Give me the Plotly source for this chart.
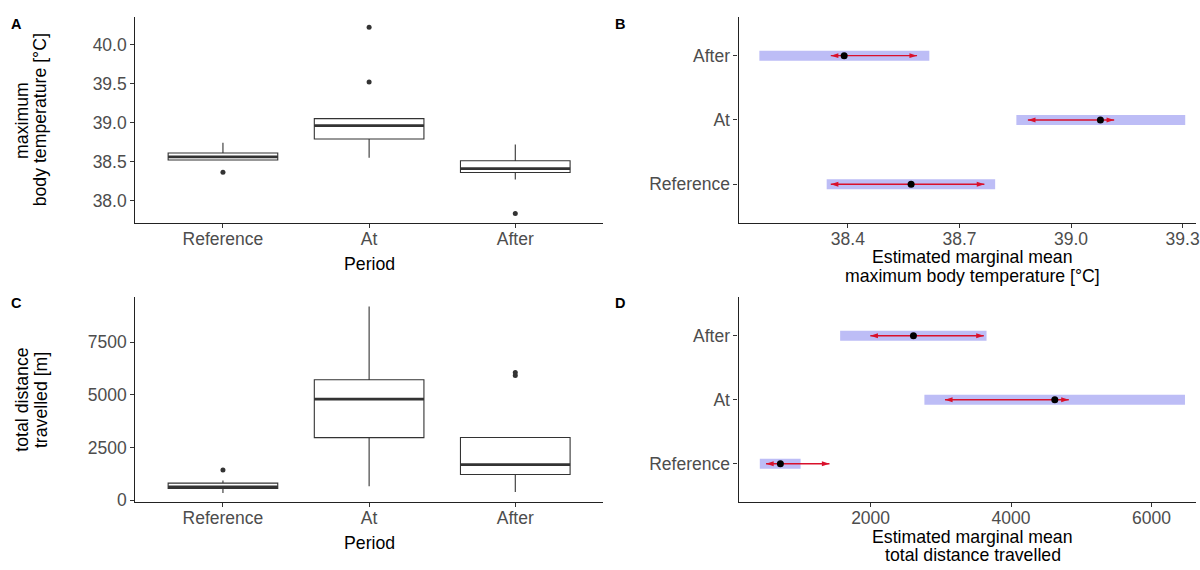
import plotly.graph_objects as go

# ---- data -------------------------------------------------------------
periods = ["Reference", "At", "After"]

# maximum body temperature [°C] – box summaries per period
temp_q1 = [38.52, 38.79, 38.36]
temp_median = [38.56, 38.96, 38.41]
temp_q3 = [38.61, 39.05, 38.51]
temp_lower = [38.52, 38.55, 38.27]
temp_upper = [38.74, 39.05, 38.72]
temp_outlier_period = [0, 1, 1, 2]
temp_outlier_value = [38.365, 39.52, 40.22, 37.836]

# total distance travelled [m] – box summaries per period
dist_q1 = [560, 2970, 1220]
dist_median = [640, 4800, 1690]
dist_q3 = [810, 5720, 2980]
dist_lower = [345, 660, 390]
dist_upper = [940, 9200, 2980]
dist_outlier_period = [0, 2, 2]
dist_outlier_value = [1435, 5920, 6060]

# estimated marginal means, confidence limits and comparison arrows
temp_emm = [38.570, 39.079, 38.390]
temp_lcl = [38.343, 38.853, 38.162]
temp_ucl = [38.796, 39.307, 38.619]
temp_arrow_lo = [38.354, 38.884, 38.354]
temp_arrow_hi = [38.767, 39.116, 38.586]

dist_emm = [715, 4623, 2610]
dist_lcl = [422, 2766, 1566]
dist_ucl = [1003, 6477, 3651]
dist_arrow_lo = [511, 3059, 1996]
dist_arrow_hi = [1414, 4822, 3612]

temp_ticks = [38.0, 38.5, 39.0, 39.5, 40.0]
temp_emm_ticks = [38.4, 38.7, 39.0, 39.3]
dist_ticks = [0, 2500, 5000, 7500]
dist_emm_ticks = [2000, 4000, 6000]

# ---- styling ----------------------------------------------------------
W, H = 1200, 570
FONT = "Liberation Sans, Arial, sans-serif"
TICK_FONT = dict(family=FONT, size=17.5, color="#4D4D4D")
TITLE_FONT = dict(family=FONT, size=17.7, color="#000000")
BOX_LINE = "#333333"
CI_FILL = "#BDBDF6"
ARROW_RED = "#D9102B"
BOX_WIDTH = 0.75
CI_HEIGHT = 0.155

pos = list(range(len(periods)))


def px_x(p):
    return p / W


def px_y(p):
    return 1 - p / H


fig = go.Figure()


def add_box_panel(xa, ya, q1, med, q3, lo, hi, out_pos, out_val):
    fig.add_trace(go.Box(
        x=pos, q1=q1, median=med, q3=q3, lowerfence=lo, upperfence=hi,
        width=BOX_WIDTH, whiskerwidth=0, boxpoints=False,
        fillcolor="white", line=dict(color=BOX_LINE, width=1.1),
        xaxis=xa, yaxis=ya, showlegend=False, hoverinfo="skip",
    ))
    # thicker median bars, as in ggplot boxplots
    mx, my = [], []
    for p, m in zip(pos, med):
        mx += [p - BOX_WIDTH / 2, p + BOX_WIDTH / 2, None]
        my += [m, m, None]
    fig.add_trace(go.Scatter(
        x=mx, y=my, mode="lines", line=dict(color=BOX_LINE, width=2.6),
        xaxis=xa, yaxis=ya, showlegend=False, hoverinfo="skip",
    ))
    fig.add_trace(go.Scatter(
        x=out_pos, y=out_val, mode="markers",
        marker=dict(color=BOX_LINE, size=5),
        xaxis=xa, yaxis=ya, showlegend=False, hoverinfo="skip",
    ))


def add_emm_panel(xa, ya, emm, lcl, ucl, a_lo, a_hi):
    fig.add_trace(go.Bar(
        y=pos, x=[u - l for l, u in zip(lcl, ucl)], base=lcl,
        orientation="h", width=CI_HEIGHT,
        marker=dict(color=CI_FILL, line=dict(width=0)),
        xaxis=xa, yaxis=ya, showlegend=False, hoverinfo="skip",
    ))
    sx, sy = [], []
    for p, l, h in zip(pos, a_lo, a_hi):
        sx += [l, h, None]
        sy += [p, p, None]
    fig.add_trace(go.Scatter(
        x=sx, y=sy, mode="lines", line=dict(color=ARROW_RED, width=1.4),
        xaxis=xa, yaxis=ya, showlegend=False, hoverinfo="skip",
    ))
    fig.add_trace(go.Scatter(
        x=a_lo + a_hi, y=pos + pos, mode="markers",
        marker=dict(symbol="arrow", size=8, color=ARROW_RED,
                    angle=[-90] * len(pos) + [90] * len(pos),
                    line=dict(width=0)),
        xaxis=xa, yaxis=ya, showlegend=False, hoverinfo="skip",
    ))
    fig.add_trace(go.Scatter(
        x=emm, y=pos, mode="markers",
        marker=dict(color="black", size=7),
        xaxis=xa, yaxis=ya, showlegend=False, hoverinfo="skip",
    ))


add_box_panel("x", "y", temp_q1, temp_median, temp_q3, temp_lower, temp_upper,
              temp_outlier_period, temp_outlier_value)
add_emm_panel("x2", "y2", temp_emm, temp_lcl, temp_ucl, temp_arrow_lo, temp_arrow_hi)
add_box_panel("x3", "y3", dist_q1, dist_median, dist_q3, dist_lower, dist_upper,
              dist_outlier_period, dist_outlier_value)
add_emm_panel("x4", "y4", dist_emm, dist_lcl, dist_ucl, dist_arrow_lo, dist_arrow_hi)

axis_common = dict(
    showgrid=False, zeroline=False, showline=True, linecolor="#222222",
    linewidth=1.1, ticks="outside", ticklen=4, tickwidth=1,
    tickcolor="#333333", tickfont=TICK_FONT, fixedrange=True,
)


def x_axis(tickvals, **kw):
    # labels sit close to the axis line; the short tick marks come from
    # minor ticks placed at the same values
    d = dict(axis_common, ticks="", tickvals=tickvals,
             ticklabeloverflow="allow",
             minor=dict(ticks="outside", ticklen=4, tickwidth=1,
                        tickcolor="#333333", tickvals=tickvals, showgrid=False))
    d.update(kw)
    return d


def y_axis(tickvals, **kw):
    d = dict(axis_common, tickvals=tickvals)
    d.update(kw)
    return d


left_dom = [px_x(135.7), px_x(605)]
right_dom = [px_x(741), 1.0]
top_dom = [px_y(226), px_y(17.3)]
bot_dom = [px_y(509.3), px_y(301.5)]

fig.update_layout(
    width=W, height=H, margin=dict(l=0, r=0, t=0, b=0),
    paper_bgcolor="white", plot_bgcolor="white", autosize=False,
    barmode="overlay",
    xaxis=x_axis(pos, domain=left_dom, anchor="y", range=[-0.6, 2.6],
                 ticktext=periods),
    yaxis=y_axis(temp_ticks, domain=top_dom, anchor="x", range=[37.716, 40.35],
                 tickformat=".1f"),
    xaxis2=x_axis(temp_emm_ticks, domain=right_dom, anchor="y2",
                  range=[38.106, 39.336], tickformat=".1f"),
    yaxis2=y_axis(pos, domain=top_dom, anchor="x2", range=[-0.6, 2.6],
                  ticktext=periods),
    xaxis3=x_axis(pos, domain=left_dom, anchor="y3", range=[-0.6, 2.6],
                  ticktext=periods),
    yaxis3=y_axis(dist_ticks, domain=bot_dom, anchor="x3", range=[-94, 9640]),
    xaxis4=x_axis(dist_emm_ticks, domain=right_dom, anchor="y4",
                  range=[119, 6634]),
    yaxis4=y_axis(pos, domain=bot_dom, anchor="x4", range=[-0.6, 2.6],
                  ticktext=periods),
)


def label(text, x, y, font, angle=0):
    fig.add_annotation(
        text=text, x=px_x(x), y=px_y(y), xref="paper", yref="paper",
        showarrow=False, xanchor="center", yanchor="middle",
        textangle=angle, font=font, borderpad=0,
    )


letter_font = dict(family=FONT, size=14.5, color="black", weight="bold")
label("A", 17, 24, letter_font)
label("B", 622, 24, letter_font)
label("C", 17, 307, letter_font)
label("D", 622, 307, letter_font)

# axis titles
label("Period", 370.3, 268, TITLE_FONT)
label("Period", 370.3, 551, TITLE_FONT)
label("maximum", 22, 121.7, TITLE_FONT, -90)
label("body temperature [°C]", 40.5, 121.7, TITLE_FONT, -90)
label("total distance", 22, 405.4, TITLE_FONT, -90)
label("travelled [m]", 40.5, 405.4, TITLE_FONT, -90)
label("Estimated marginal mean", 976, 261, TITLE_FONT)
label("maximum body temperature [°C]", 976, 280, TITLE_FONT)
label("Estimated marginal mean", 976, 544.5, TITLE_FONT)
label("total distance travelled", 976, 562.5, TITLE_FONT)

fig.write_html("out.html", config={"displayModeBar": False})
